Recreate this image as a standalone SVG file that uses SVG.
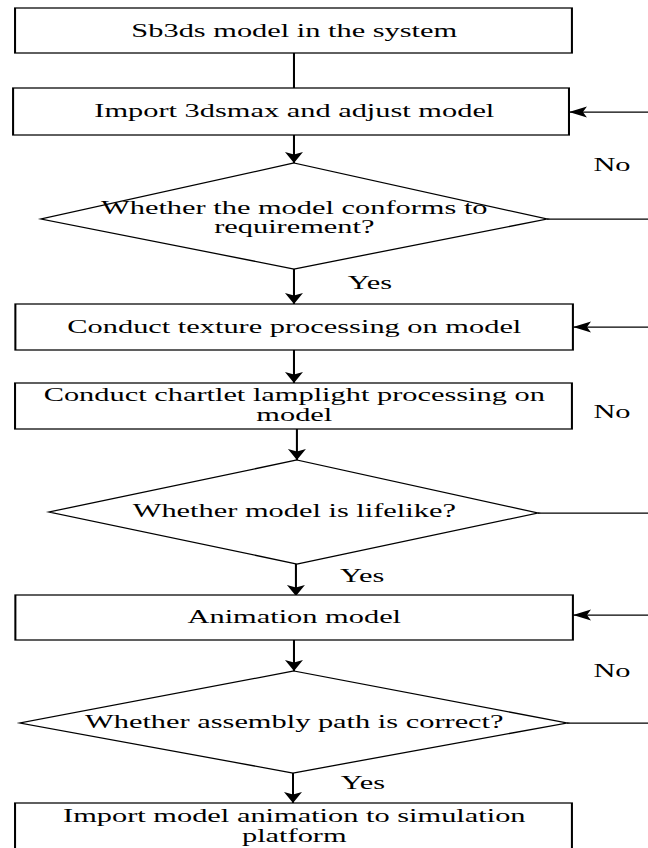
<svg xmlns="http://www.w3.org/2000/svg" width="648" height="848" viewBox="0 0 648 848">
<defs>
<style>
.n{fill:#fff;stroke:#000;stroke-width:1.25}
.c{fill:none;stroke:#000;stroke-width:1.25}
.t{font-family:"Liberation Serif","Times New Roman",serif;font-size:18.6px;fill:#000;text-anchor:middle}
</style>
<marker id="ah" viewBox="0 0 11 12" refX="11" refY="6" markerWidth="11" markerHeight="12" markerUnits="userSpaceOnUse" orient="auto">
<path d="M0,0.5 L11,6 L0,11.5 L2.5,6 z" fill="#000"/>
</marker>
</defs>
<rect width="648" height="848" fill="#fff"/>
<g transform="scale(1.635,1)">
<g id="connectors">
<line class="c" x1="179.8" y1="53" x2="179.8" y2="88"/>
<line class="c" x1="179.8" y1="135" x2="179.8" y2="163" marker-end="url(#ah)"/>
<line class="c" x1="179.8" y1="269" x2="179.8" y2="304" marker-end="url(#ah)"/>
<line class="c" x1="179.8" y1="350" x2="179.8" y2="383" marker-end="url(#ah)"/>
<line class="c" x1="181.6" y1="429" x2="181.6" y2="460" marker-end="url(#ah)"/>
<line class="c" x1="181" y1="564" x2="181" y2="596" marker-end="url(#ah)"/>
<line class="c" x1="179.8" y1="640" x2="179.8" y2="671" marker-end="url(#ah)"/>
<line class="c" x1="179.2" y1="773" x2="179.2" y2="803" marker-end="url(#ah)"/>
<line class="c" x1="400" y1="112" x2="348" y2="112" marker-end="url(#ah)"/>
<line class="c" x1="334.6" y1="219" x2="400" y2="219"/>
<line class="c" x1="400" y1="327" x2="350.5" y2="327" marker-end="url(#ah)"/>
<line class="c" x1="329" y1="513" x2="400" y2="513"/>
<line class="c" x1="400" y1="615" x2="350.5" y2="615" marker-end="url(#ah)"/>
<line class="c" x1="346.8" y1="723" x2="400" y2="723"/>
<text class="t" x="374.3" y="171">No</text>
<text class="t" x="226.3" y="289">Yes</text>
<text class="t" x="374.3" y="418">No</text>
<text class="t" x="221.5" y="582">Yes</text>
<text class="t" x="374.3" y="677">No</text>
<text class="t" x="222" y="789">Yes</text>
</g>
<g id="n1">
<rect class="n" x="9.2" y="8" width="340.6" height="45"/>
<text class="t" x="180" y="37">Sb3ds model in the system</text>
</g>
<g id="n2">
<rect class="n" x="8" y="88" width="340" height="47"/>
<text class="t" x="180" y="117">Import 3dsmax and adjust model</text>
</g>
<g id="d1">
<polygon class="n" points="179.8,163 334.6,219 179.8,269 25.1,219"/>
<text class="t" x="180" y="214">Whether the model conforms to</text>
<text class="t" x="180" y="233">requirement?</text>
</g>
<g id="n3">
<rect class="n" x="9.4" y="304" width="341" height="46"/>
<text class="t" x="180" y="333">Conduct texture processing on model</text>
</g>
<g id="n4">
<rect class="n" x="9.2" y="383" width="340.6" height="46"/>
<text class="t" x="180" y="401">Conduct chartlet lamplight processing on</text>
<text class="t" x="180" y="421">model</text>
</g>
<g id="d2">
<polygon class="n" points="181.6,460 329,513 181.6,564 30,512"/>
<text class="t" x="180" y="517">Whether model is lifelike?</text>
</g>
<g id="n5">
<rect class="n" x="9.4" y="595" width="341" height="45"/>
<text class="t" x="180" y="623">Animation model</text>
</g>
<g id="d3">
<polygon class="n" points="179.8,671 346.8,723 179.2,773 12.2,723"/>
<text class="t" x="180" y="728">Whether assembly path is correct?</text>
</g>
<g id="n6">
<rect class="n" x="9.2" y="803" width="340.6" height="50"/>
<text class="t" x="180" y="822">Import model animation to simulation</text>
<text class="t" x="180" y="842">platform</text>
</g>
</g>
</svg>
